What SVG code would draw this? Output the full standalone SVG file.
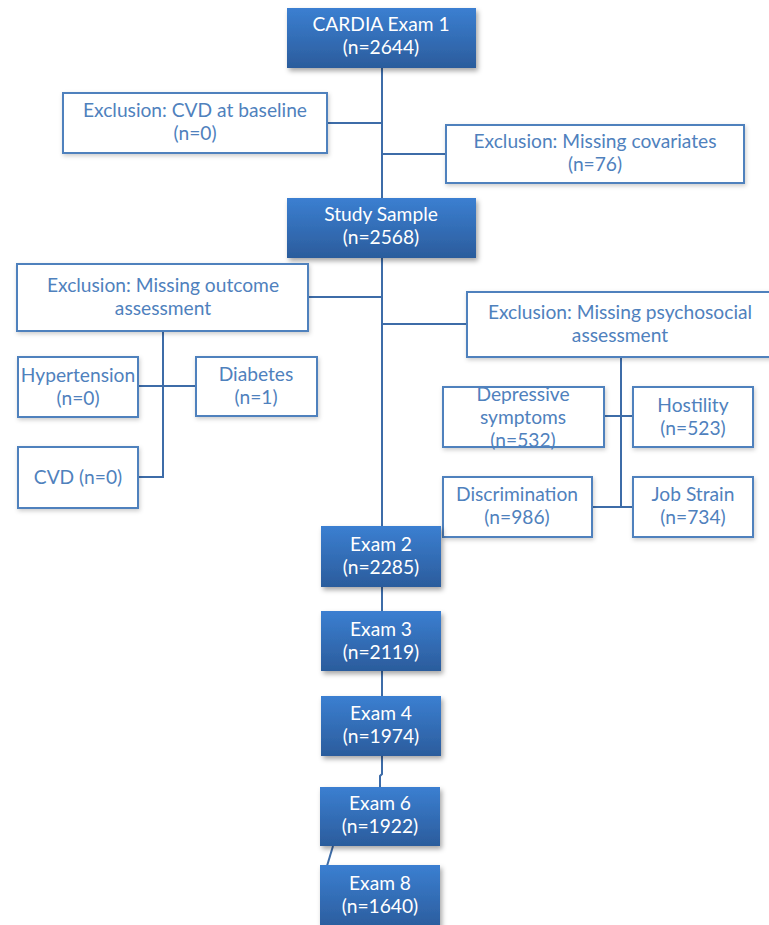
<svg xmlns="http://www.w3.org/2000/svg" width="769" height="925" viewBox="0 0 769 925">
<defs>
<linearGradient id="blueg" x1="0" y1="0" x2="0" y2="1">
<stop offset="0" stop-color="#3b7fd1"/>
<stop offset="1" stop-color="#2b5c9c"/>
</linearGradient>
<filter id="sh" x="-10%" y="-10%" width="125%" height="135%">
<feDropShadow dx="2" dy="3" stdDeviation="2.5" flood-color="#000" flood-opacity="0.35"/>
</filter>
<filter id="shl" x="-10%" y="-10%" width="125%" height="135%">
<feDropShadow dx="1" dy="2" stdDeviation="2" flood-color="#000" flood-opacity="0.2"/>
</filter>
</defs>
<style>
.fill{fill:url(#blueg);stroke:none;filter:url(#sh)}
.out{fill:#fff;stroke:#4f81bd;stroke-width:2;filter:url(#shl)}
.wt{font-family:Lato,"Open Sans","Liberation Sans",sans-serif;font-size:19.2px;fill:#fff;text-anchor:middle}
.bt{font-family:Lato,"Open Sans","Liberation Sans",sans-serif;font-size:19.2px;fill:#4f81bd;text-anchor:middle}
.con{fill:none;stroke:#3d6ca8;stroke-width:2}
</style>
<rect width="769" height="925" fill="#fff"/>
<g id="connectors">
<path class="con" d="M382 68 V198"/>
<path class="con" d="M327 123 H382"/>
<path class="con" d="M382 154 H446"/>
<path class="con" d="M382 258 V526"/>
<path class="con" d="M308 297 H382"/>
<path class="con" d="M382 324 H467"/>
<path class="con" d="M163 331 V477 H138"/>
<path class="con" d="M138 386 H196"/>
<path class="con" d="M621 357 V507"/>
<path class="con" d="M604 416 H633"/>
<path class="con" d="M592 507 H633"/>
<path class="con" d="M382 587 V611"/>
<path class="con" d="M382 671 V696"/>
<path class="con" d="M382 756 V774 L380 776 V787"/>
<path class="con" d="M333 846 L327 866"/>
</g>
<g id="exam1"><rect class="fill" x="287" y="8" width="189" height="60"/><text class="wt" x="381" y="31">CARDIA Exam 1</text><text class="wt" x="381" y="54">(n=2644)</text></g>
<g id="excl-cvd"><rect class="out" x="63" y="93" width="264" height="60"/><text class="bt" x="195" y="117">Exclusion: CVD at baseline</text><text class="bt" x="195" y="140">(n=0)</text></g>
<g id="excl-cov"><rect class="out" x="446" y="125" width="298" height="58"/><text class="bt" x="595" y="148">Exclusion: Missing covariates</text><text class="bt" x="595" y="171">(n=76)</text></g>
<g id="study"><rect class="fill" x="287" y="198" width="189" height="60"/><text class="wt" x="381" y="221">Study Sample</text><text class="wt" x="381" y="244">(n=2568)</text></g>
<g id="excl-outcome"><rect class="out" x="17" y="264" width="291" height="67"/><text class="bt" x="163" y="292">Exclusion: Missing outcome</text><text class="bt" x="163" y="315">assessment</text></g>
<g id="hyp"><rect class="out" x="18" y="357" width="120" height="60"/><text class="bt" x="78" y="382">Hypertension</text><text class="bt" x="78" y="405">(n=0)</text></g>
<g id="diab"><rect class="out" x="196" y="357" width="121" height="59"/><text class="bt" x="256" y="381">Diabetes</text><text class="bt" x="256" y="404">(n=1)</text></g>
<g id="cvd"><rect class="out" x="18" y="447" width="120" height="61"/><text class="bt" x="78" y="484">CVD (n=0)</text></g>
<g id="excl-psy"><rect class="out" x="467" y="292" width="304" height="65"/><text class="bt" x="620" y="319">Exclusion: Missing psychosocial</text><text class="bt" x="620" y="342">assessment</text></g>
<g id="dep"><rect class="out" x="443" y="387" width="161" height="60"/><text class="bt" x="523" y="401">Depressive</text><text class="bt" x="523" y="424">symptoms</text><text class="bt" x="523" y="447">(n=532)</text></g>
<g id="host"><rect class="out" x="633" y="387" width="120" height="60"/><text class="bt" x="693" y="412">Hostility</text><text class="bt" x="693" y="435">(n=523)</text></g>
<g id="disc"><rect class="out" x="443" y="477" width="149" height="60"/><text class="bt" x="517" y="501">Discrimination</text><text class="bt" x="517" y="524">(n=986)</text></g>
<g id="job"><rect class="out" x="633" y="477" width="120" height="60"/><text class="bt" x="693" y="501">Job Strain</text><text class="bt" x="693" y="524">(n=734)</text></g>
<g id="exam2"><rect class="fill" x="321" y="526" width="120" height="61"/><text class="wt" x="381" y="551">Exam 2</text><text class="wt" x="381" y="574">(n=2285)</text></g>
<g id="exam3"><rect class="fill" x="321" y="611" width="120" height="60"/><text class="wt" x="381" y="636">Exam 3</text><text class="wt" x="381" y="659">(n=2119)</text></g>
<g id="exam4"><rect class="fill" x="321" y="696" width="120" height="60"/><text class="wt" x="381" y="720">Exam 4</text><text class="wt" x="381" y="743">(n=1974)</text></g>
<g id="exam6"><rect class="fill" x="320" y="787" width="120" height="59"/><text class="wt" x="380" y="810">Exam 6</text><text class="wt" x="380" y="833">(n=1922)</text></g>
<g id="exam8"><rect class="fill" x="320" y="865" width="120" height="64"/><text class="wt" x="380" y="890">Exam 8</text><text class="wt" x="380" y="913">(n=1640)</text></g>
</svg>
